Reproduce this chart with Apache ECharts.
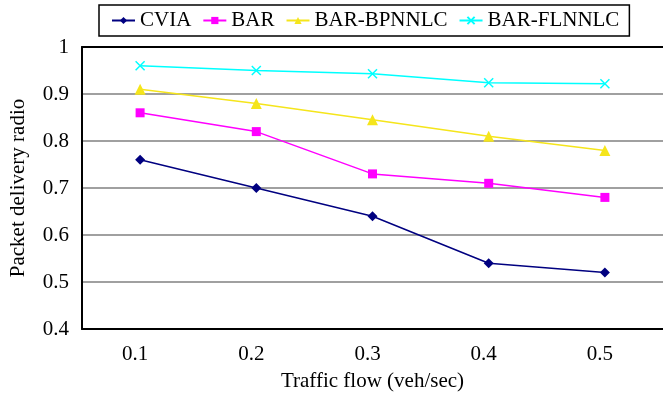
<!doctype html>
<html lang="en">
<head>
    <meta charset="utf-8">
    <title>packet-delivery</title>
    <script src="https://cdn.jsdelivr.net/npm/echarts@6/dist/echarts.min.js"></script>
    <style>
        *{margin:0;padding:0}
        html,body{width:100%;height:100%;background:#fff}
        #main{width:663px;height:397px}
    </style>
</head>
<body>
<div id="main"></div>
<script type="text/javascript">
    var categories = ['0.1', '0.2', '0.3', '0.4', '0.5'];
    var cvia = [0.76, 0.70, 0.64, 0.54, 0.52];
    var bar = [0.86, 0.82, 0.73, 0.71, 0.68];
    var barBpnnlc = [0.91, 0.88, 0.845, 0.81, 0.78];
    var barFlnnlc = [0.96, 0.95, 0.943, 0.924, 0.922];

    var font = 'Liberation Serif';
    var crossPath = 'path://M0,0L10,10M10,0L0,10';

    function makeLine(name, data, color, symbol, size) {
        return {
            name: name,
            type: 'line',
            data: data,
            symbol: symbol,
            symbolSize: size,
            showAllSymbol: true,
            animation: false,
            lineStyle: {color: color, width: 1.5},
            itemStyle: {color: color, borderColor: color, borderWidth: symbol === crossPath ? 1.5 : 0}
        };
    }

    var myChart = echarts.init(document.getElementById('main'));
    var option = {
        animation: false,
        legend: {
            top: 5,
            left: 99,
            padding: [5, 10, 5, 12],
            itemGap: 11,
            itemWidth: 23,
            itemHeight: 9,
            borderColor: '#000',
            borderWidth: 1.5,
            textStyle: {fontFamily: font, fontSize: 21, color: '#000'},
            data: ['CVIA', 'BAR', 'BAR-BPNNLC', 'BAR-FLNNLC']
        },
        grid: {left: 80, right: -2, top: 47, bottom: 68},
        xAxis: [{
            type: 'category',
            data: categories,
            boundaryGap: true,
            name: 'Traffic flow (veh/sec)',
            nameLocation: 'middle',
            nameGap: 42,
            nameTextStyle: {fontFamily: font, fontSize: 21, color: '#000'},
            axisLine: {lineStyle: {color: '#000', width: 2}},
            axisTick: {inside: true, length: 5, lineStyle: {color: '#000', width: 1.5}},
            axisLabel: {fontFamily: font, fontSize: 21, color: '#000', margin: 15, padding: [0, 10, 0, 0]}
        }, {
            type: 'category',
            position: 'top',
            data: categories,
            axisLine: {lineStyle: {color: '#000', width: 2}},
            axisTick: {show: false},
            axisLabel: {show: false}
        }],
        yAxis: {
            type: 'value',
            min: 0.4,
            max: 1,
            interval: 0.1,
            name: 'Packet delivery radio',
            nameLocation: 'middle',
            nameGap: 53,
            nameTextStyle: {fontFamily: font, fontSize: 21, color: '#000'},
            axisLine: {show: true, lineStyle: {color: '#000', width: 2}},
            axisTick: {show: false},
            axisLabel: {
                fontFamily: font, fontSize: 21, color: '#000', margin: 13,
                formatter: function (v) { return +v.toFixed(1) + ''; }
            },
            splitLine: {lineStyle: {color: '#808080', width: 1.5}}
        },
        series: [
            makeLine('CVIA', cvia, '#000080', 'diamond', 10),
            makeLine('BAR', bar, '#ff00ff', 'rect', 9),
            makeLine('BAR-BPNNLC', barBpnnlc, '#f5e51b', 'triangle', 11),
            makeLine('BAR-FLNNLC', barFlnnlc, '#00ffff', crossPath, 9)
        ]
    };
    myChart.setOption(option);
</script>
</body>
</html>
